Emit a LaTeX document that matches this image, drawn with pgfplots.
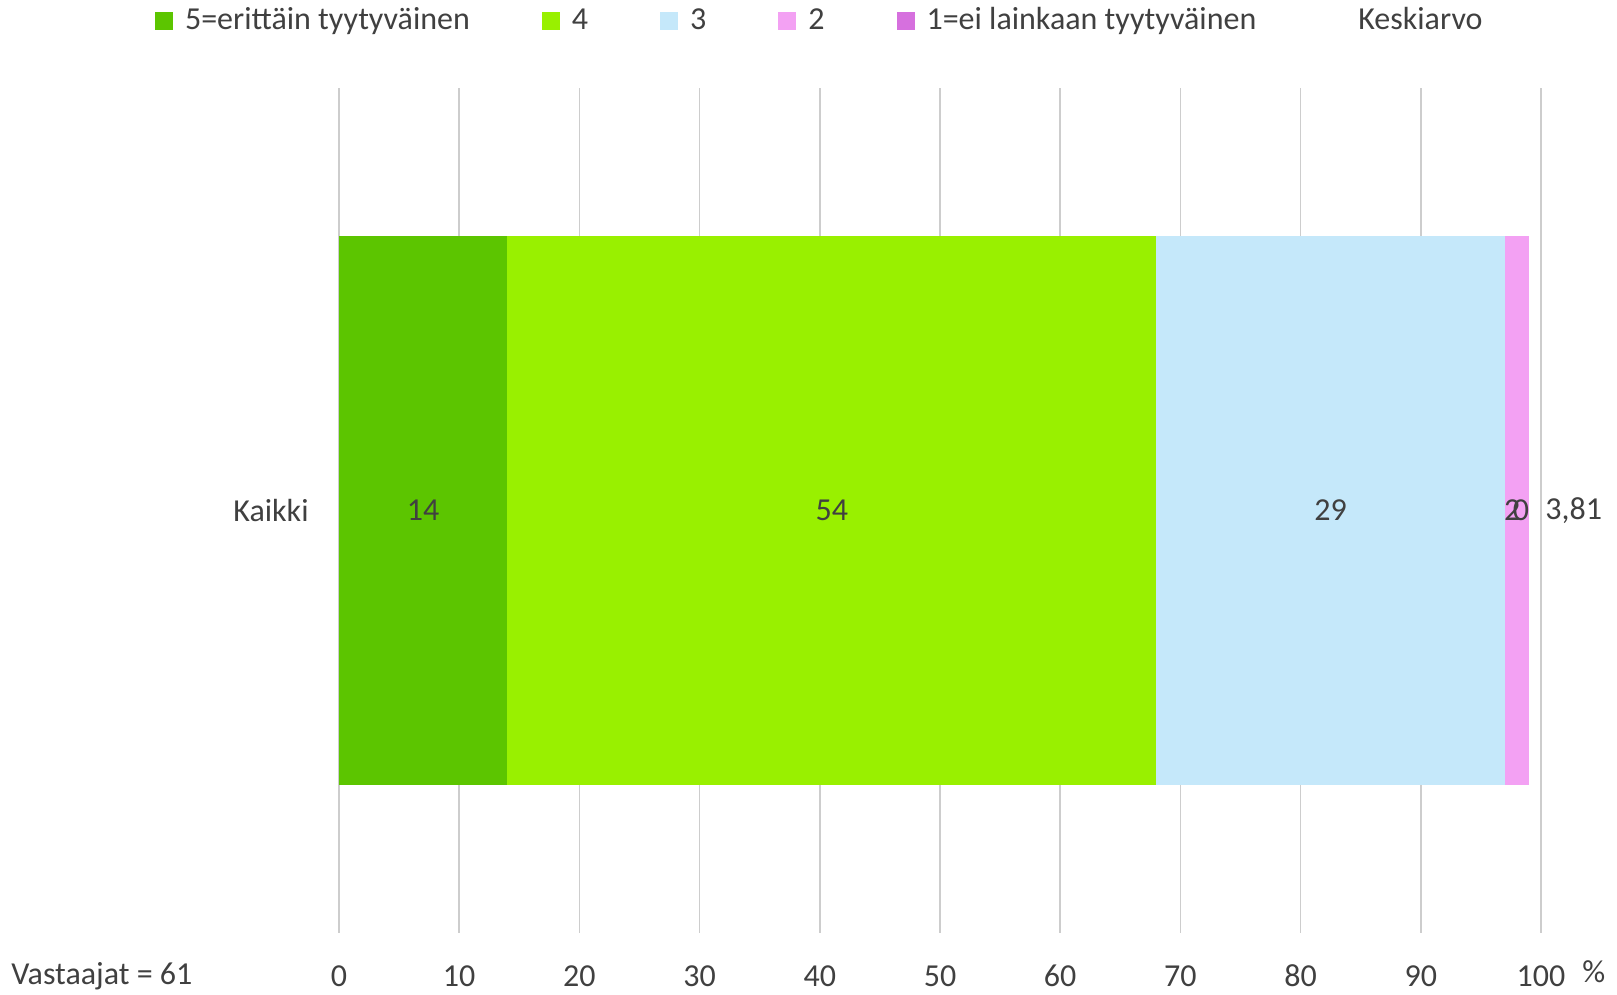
\documentclass[border=0pt]{standalone}
\usepackage{pgfplots}
\pgfplotsset{compat=1.18}
\usepackage{fontspec}
\setmainfont{Carlito}
\definecolor{txt}{RGB}{64,64,64}
\definecolor{gridc}{RGB}{205,205,205}
\definecolor{c5}{RGB}{92,197,0}
\definecolor{c4}{RGB}{153,240,0}
\definecolor{c3}{RGB}{197,232,250}
\definecolor{c2}{RGB}{243,161,243}
\definecolor{c1}{RGB}{214,112,222}
\begin{document}
\fontsize{16}{19}\selectfont
\begin{tikzpicture}
\useasboundingbox (-169.5pt,-31pt) rectangle (639pt,466.5pt);
\begin{axis}[
  at={(0,0)}, anchor=south west,
  scale only axis, width=601pt, height=422.5pt,
  xbar stacked, bar width=1.3,
  xmin=0, xmax=100, ymin=-1, ymax=1,
  xtick={0,10,...,100}, ytick={0}, yticklabels={Kaikki},
  xmajorgrids, major grid style={gridc, line width=0.8pt},
  axis line style={draw=none}, tick style={draw=none},
  /pgf/number format/assume math mode=true,
  font=\fontsize{16}{19}\selectfont,
  tick label style={font=\fontsize{16}{19}\selectfont, text=txt, inner sep=0pt},
  xticklabel style={anchor=center, yshift=-21.5pt},
  yticklabel style={anchor=east, xshift=-15pt},
  clip=false,
  point meta=explicit,
  nodes near coords,
  every node near coord/.append style={anchor=center, text=txt, font=\fontsize{16}{19}\selectfont},
  legend image code/.code={\fill[#1] (0pt,-4.5pt) rectangle (9pt,4.5pt);},
  legend columns=6,
  legend style={at={(axis description cs:-0.153,1.079)}, anchor=west, draw=none, inner sep=0pt, outer sep=0pt, text=txt, font=\fontsize{16}{19}\selectfont,
    /tikz/every even column/.append style={column sep=34pt},
    /tikz/every odd column/.append style={column sep=4pt}},
]
\addplot[fill=c5, draw=none] coordinates {(14,0) [14]};
\addlegendentry{5=erittäin tyytyväinen}
\addplot[fill=c4, draw=none] coordinates {(54,0) [54]};
\addlegendentry{4}
\addplot[fill=c3, draw=none] coordinates {(29,0) [29]};
\addlegendentry{3}
\addplot[fill=c2, draw=none, every node near coord/.append style={xshift=-2.4pt}] coordinates {(2,0) [2]};
\addlegendentry{2}
\addplot[fill=c1, draw=none] coordinates {(0,0) [0]};
\addlegendentry{1=ei lainkaan tyytyväinen}
\addlegendimage{fill=white, draw=none}
\addlegendentry{Keskiarvo}
\coordinate (zeroLabel) at (axis cs:99,0);
\node[anchor=west, inner sep=0pt, text=txt] at (axis cs:100,0) {\hspace{2pt}3,81};
\node[anchor=west, inner sep=0pt, text=txt] at (axis description cs:-0.2729,-0.0509) {Vastaajat = 61};
\node[anchor=west, inner sep=0pt, text=txt] at (axis description cs:1.034,-0.046) {\%};
\end{axis}
\node[anchor=center, inner sep=0pt, text=txt, xshift=-4pt] at (zeroLabel) {0};
\end{tikzpicture}
\end{document}
